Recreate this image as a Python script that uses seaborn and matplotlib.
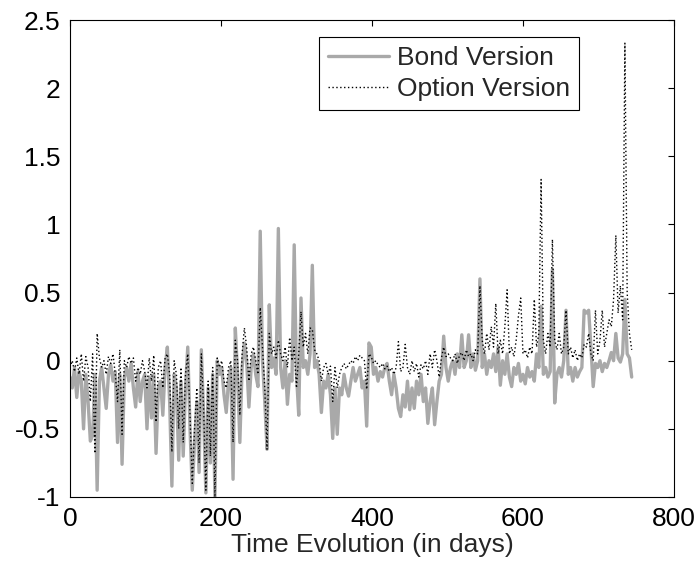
"""Bond vs option version time series, MATLAB-style line chart."""

import matplotlib

matplotlib.use("Agg")
import matplotlib.pyplot as plt
import numpy as np
import pandas as pd
import seaborn as sns

# one value every DAY_STEP days
DAY_STEP = 3

BOND = [
    -0.12, -0.20, -0.05, -0.27, -0.08, -0.15, -0.50, -0.10, -0.30, -0.59,
    -0.55, -0.10, -0.95, -0.15, -0.05, -0.20, -0.35, -0.10, -0.03, -0.15,
    -0.08, -0.60, -0.10, -0.76, -0.12, -0.05, -0.15, -0.02, -0.20, -0.34,
    -0.08, -0.30, -0.15, -0.10, -0.50, -0.12, -0.42, -0.10, -0.68, -0.20,
    -0.15, -0.40, -0.05, 0.10, -0.30, -0.92, -0.10, -0.20, -0.73, -0.15,
    -0.70, -0.20, 0.10, -0.50, -0.95, -0.60, -0.30, -0.82, 0.08, -0.40,
    -0.97, -0.20, -0.75, -0.10, -1.00, 0.00, -0.10, -0.05, -0.25, -0.38,
    -0.15, -0.05, -0.87, 0.24, -0.10, -0.60, -0.05, 0.13, 0.00, -0.34,
    -0.05, 0.05, -0.10, -0.19, 0.95, 0.00, -0.30, -0.65, 0.41, -0.05,
    0.02, -0.10, 0.97, -0.05, -0.20, 0.00, -0.32, -0.10, -0.15, 0.85,
    -0.10, -0.40, 0.46, -0.05, 0.00, -0.10, 0.05, 0.70, -0.05, 0.00,
    -0.10, -0.38, -0.15, -0.20, -0.10, -0.25, -0.57, -0.20, -0.54, -0.20,
    -0.25, -0.10, -0.20, -0.26, -0.15, -0.05, -0.15, -0.10, -0.05, -0.20,
    -0.15, -0.48, 0.13, 0.10, -0.10, -0.05, -0.15, -0.08, -0.12, -0.05,
    -0.02, -0.15, -0.25, -0.10, -0.20, -0.35, -0.41, -0.25, -0.34, -0.15,
    -0.36, -0.20, -0.35, -0.15, -0.25, -0.10, -0.30, -0.20, -0.46, -0.30,
    -0.20, -0.47, -0.30, -0.15, -0.10, 0.18, -0.05, -0.15, -0.05, 0.00,
    -0.10, 0.05, -0.05, 0.19, -0.05, 0.00, 0.19, -0.05, 0.05, -0.07,
    0.00, 0.60, -0.05, 0.05, -0.10, 0.00, -0.05, 0.05, -0.08, 0.10,
    -0.18, 0.00, -0.10, 0.05, -0.12, -0.19, -0.05, -0.10, -0.02, -0.15,
    -0.10, -0.17, -0.05, -0.12, -0.08, -0.15, 0.05, -0.05, 0.40, -0.10,
    -0.05, -0.12, -0.08, 0.67, -0.31, -0.10, -0.05, -0.12, 0.00, 0.37,
    -0.10, -0.05, -0.15, -0.05, -0.12, -0.08, -0.05, 0.37, 0.35, 0.37,
    0.10, -0.19, -0.02, -0.05, 0.00, -0.08, -0.02, -0.05, 0.00, 0.06,
    0.00, 0.20, 0.02, -0.01, 0.05, 0.45, 0.05, 0.02, -0.12,
]

OPTION = [
    -0.05, 0.00, -0.08, 0.02, -0.10, 0.05, -0.15, 0.03, -0.05, -0.30,
    0.05, -0.68, 0.20, 0.02, -0.05, 0.00, -0.10, 0.03, -0.02, 0.05,
    -0.10, -0.30, 0.08, -0.54, 0.00, -0.05, 0.03, -0.02, 0.02, -0.15,
    -0.05, -0.10, 0.00, -0.08, -0.20, 0.02, -0.15, 0.04, -0.45, -0.05,
    0.00, -0.20, 0.02, 0.05, -0.10, -0.67, 0.00, -0.10, -0.50, -0.05,
    -0.60, -0.10, 0.05, -0.40, -0.90, -0.50, -0.20, -0.75, 0.05, -0.35,
    -0.95, -0.15, -0.70, -0.05, -1.00, 0.02, -0.05, 0.00, -0.15, -0.20,
    -0.05, 0.00, -0.60, 0.15, 0.00, -0.40, 0.05, 0.24, 0.10, -0.15,
    0.05, 0.10, 0.00, -0.10, 0.39, 0.10, -0.20, -0.65, 0.20, 0.05,
    0.10, 0.02, 0.15, 0.05, 0.00, 0.10, -0.05, 0.17, 0.00, 0.10,
    -0.20, 0.05, 0.36, 0.10, 0.20, 0.05, 0.24, 0.23, 0.08, 0.05,
    0.00, -0.15, -0.05, -0.02, -0.10, -0.04, -0.30, -0.05, -0.20, -0.10,
    -0.05, -0.02, -0.06, -0.03, 0.00, -0.02, 0.03, 0.00, 0.04, 0.02,
    0.00, -0.21, 0.05, 0.03, -0.02, 0.00, -0.03, -0.05, -0.02, -0.06,
    -0.04, -0.08, -0.05, -0.10, -0.05, 0.14, -0.08, -0.05, 0.12, -0.05,
    -0.10, 0.00, -0.08, -0.02, -0.12, -0.03, -0.06, 0.00, -0.10, 0.05,
    -0.05, 0.08, 0.00, -0.12, 0.02, 0.10, 0.03, 0.05, 0.02, 0.00,
    0.05, -0.02, 0.04, 0.06, 0.00, 0.08, 0.03, 0.05, 0.00, 0.08,
    0.05, 0.55, 0.15, 0.05, 0.20, 0.08, 0.25, 0.10, 0.42, 0.05,
    0.15, 0.05, 0.25, 0.52, 0.05, 0.10, 0.03, 0.15, 0.33, 0.46,
    0.05, 0.08, 0.02, 0.10, 0.05, 0.45, 0.10, 0.20, 1.33, 0.15,
    0.05, 0.20, 0.10, 0.89, 0.15, 0.08, 0.20, 0.05, 0.10, 0.37,
    0.05, 0.10, 0.02, 0.08, 0.00, 0.05, 0.02, 0.12, 0.10, 0.20,
    0.05, 0.00, 0.37, 0.05, 0.15, 0.37, 0.10, 0.20, 0.30, 0.25,
    0.45, 0.92, 0.35, 0.55, 0.30, 2.33, 0.50, 0.20, 0.08,
]

X_TICKS = [0, 200, 400, 600, 800]
Y_TICKS = [-1, -0.5, 0, 0.5, 1, 1.5, 2, 2.5]
Y_TICK_LABELS = ["-1", "-0.5", "0", "0.5", "1", "1.5", "2", "2.5"]

GREY = "#a9a9a9"
FONT_SIZE = 19


def main() -> int:
    days = np.arange(len(BOND)) * DAY_STEP
    df = pd.DataFrame({"day": days, "bond": BOND, "option": OPTION})

    sns.set_theme(style="white")
    plt.rcParams["font.family"] = ["Liberation Sans", "DejaVu Sans"]
    plt.rcParams["axes.unicode_minus"] = False

    fig = plt.figure(figsize=(6.99, 5.65), dpi=100)
    ax = fig.add_axes([0.1001, 0.1204, 0.8641, 0.8442])

    sns.lineplot(data=df, x="day", y="bond", color=GREY, linewidth=2.4,
                 label="Bond Version", ax=ax)
    sns.lineplot(data=df, x="day", y="option", color="black", linewidth=1.0,
                 linestyle=(0, (1, 1.8)), label="Option Version", ax=ax)

    ax.set_xlim(0, 800)
    ax.set_ylim(-1, 2.5)
    ax.set_xticks(X_TICKS)
    ax.set_xticklabels([str(t) for t in X_TICKS])
    ax.set_yticks(Y_TICKS)
    ax.set_yticklabels(Y_TICK_LABELS)
    ax.set_xlabel("Time Evolution (in days)", fontsize=FONT_SIZE, labelpad=2)
    ax.set_ylabel("")
    ax.tick_params(direction="in", top=True, right=True, length=4, width=0.8,
                   labelsize=FONT_SIZE, colors="black")
    ax.tick_params(axis="x", pad=7)
    ax.tick_params(axis="y", pad=7)
    for spine in ax.spines.values():
        spine.set_visible(True)
        spine.set_color("black")
        spine.set_linewidth(0.8)

    leg = ax.legend(loc="upper right", bbox_to_anchor=(0.843, 0.964),
                    frameon=True, fancybox=False, edgecolor="black",
                    framealpha=1, fontsize=FONT_SIZE, handlelength=2.3,
                    handletextpad=0.3, borderpad=0.35, labelspacing=0.25,
                    borderaxespad=0)
    leg.get_frame().set_linewidth(0.8)

    fig.savefig("out.png", dpi=100)
    plt.close(fig)
    return 0


if __name__ == "__main__":
    raise SystemExit(main())
